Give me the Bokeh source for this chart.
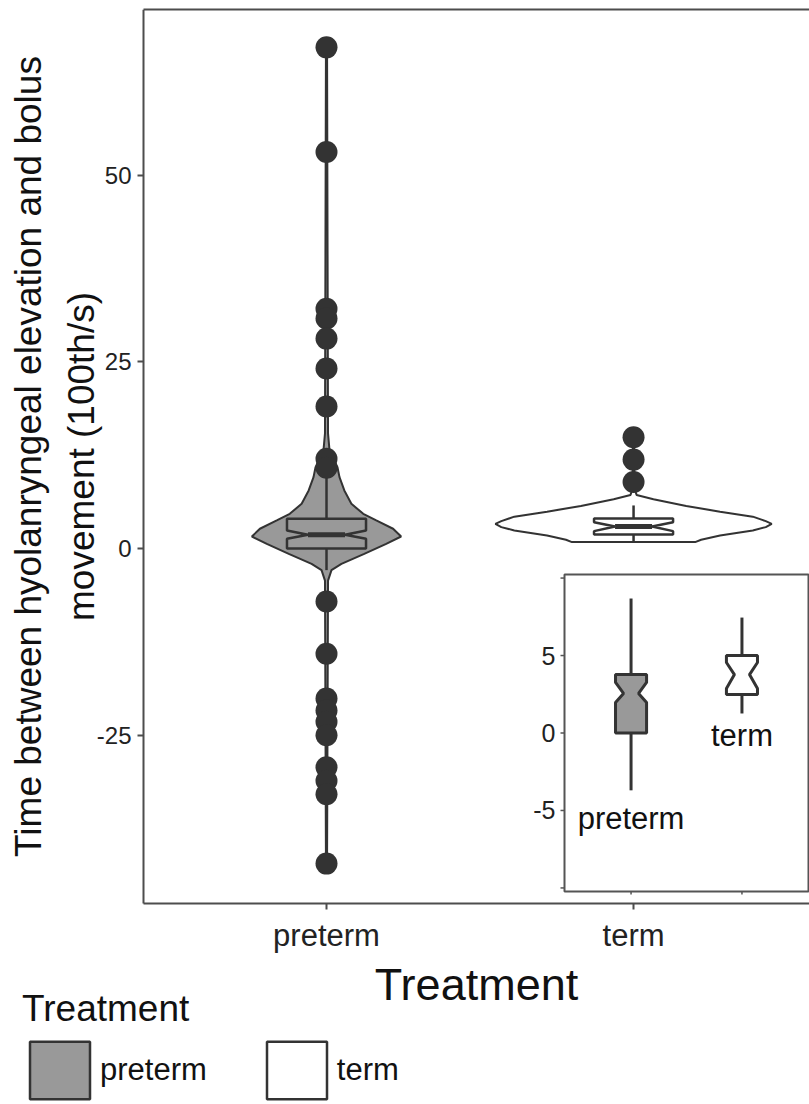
from bokeh.plotting import figure
from bokeh.models import Range1d, LinearAxis, FixedTicker, Legend, LegendItem
from bokeh.embed import file_html
from bokeh.resources import INLINE
from bokeh.core.properties import value

# ---------------- data ----------------
groups = ["preterm", "term"]
group_pos = [1, 2]
group_fill = ["#999999", "#ffffff"]

# violin outlines: y value and relative half-width (1 = widest)
pre_violin_y = [-42.2, -4.3, -2.9, -2.06, -0.72, 0.62, 1.6, 2.64, 3.75, 4.64, 5.98, 7.77, 9.55, 10.9, 13.1, 15.4, 67.1]
pre_violin_w = [0.004, 0.011, 0.036, 0.108, 0.273, 0.432, 0.540, 0.482, 0.360, 0.266, 0.180, 0.129, 0.094, 0.079, 0.022, 0.011, 0.004]
term_violin_y = [0.85, 1.16, 1.74, 2.41, 2.86, 3.3, 3.66, 4.26, 4.93, 5.69, 6.59, 7.17, 8.0, 14.9]
term_violin_w = [0.446, 0.489, 0.626, 0.863, 0.957, 1.0, 0.957, 0.863, 0.626, 0.381, 0.144, 0.022, 0.007, 0.004]

# main notched boxplots (preterm, term)
box_whisk_lo = [-2.9, 1.0]
box_q1 = [0.0, 1.87]
box_notch_lo = [1.3, 2.32]
box_med = [1.83, 2.95]
box_notch_hi = [2.41, 3.52]
box_q3 = [3.97, 4.0]
box_whisk_hi = [10.0, 5.76]

# outliers
pre_out = [67.1, 53.1, 32.1, 30.8, 28.1, 24.1, 19.0, 12.0, 10.8, -7.1, -14.1, -20.1,
           -21.7, -23.2, -25.0, -29.3, -31.1, -32.9, -42.2]
term_out = [14.9, 11.9, 8.9]

main_yticks = [-25, 0, 25, 50]
main_ylabels = {-25: "-25", 0: "0", 25: "25", 50: "50"}
main_ylim = (-47.54, 72.17)
main_xlim = (0.404, 2.573)

# inset boxplots
in_whisk_lo = [-3.7, 1.26]
in_q1 = [0.0, 2.48]
in_notch_lo = [1.97, 2.87]
in_med = [2.55, 3.77]
in_notch_hi = [3.26, 4.55]
in_q3 = [3.77, 5.0]
in_whisk_hi = [8.68, 7.45]
in_label_y = [-5.5, -0.15]
inset_yticks = [-10, -5, 0, 5, 10]
inset_ylabels = {-5: "-5", 0: "0", 5: "5"}
inset_xlim = (0.4, 2.6)
inset_ylim = (-10.23, 10.23)

y_title = "Time between hyolanryngeal elevation and bolus\nmovement (100th/s)"
x_title = "Treatment"
legend_title = "Treatment"

# ---------------- layout / style ----------------
FONT = value("Liberation Sans")
DARK = "#333333"
AXC = "#4d4d4d"
W, H = 809, 1104
# canvas pixels: whole drawing frame, main panel, inset panel (left, right, top, bottom)
CL, CR, CT, CB = 0, 809, 9, 1104
FL, FR, FT, FB = 143, 809, 9, 903
IL, IR, IT, IB = 564, 808, 574, 891


def extend_x(lim, p0, p1):
    u = (lim[1] - lim[0]) / (p1 - p0)
    return lim[0] - (p0 - CL) * u, lim[1] + (CR - p1) * u, u


def extend_y(lim, ptop, pbot):
    u = (lim[1] - lim[0]) / (pbot - ptop)
    return lim[0] - (CB - pbot) * u, lim[1] + (ptop - CT) * u, u


mx0, mx1, _ = extend_x(main_xlim, FL, FR)
my0, my1, _ = extend_y(main_ylim, FT, FB)
ix0, ix1, ux = extend_x(inset_xlim, IL, IR)
iy0, iy1, uy = extend_y(inset_ylim, IT, IB)

p = figure(width=W, height=H, x_range=Range1d(mx0, mx1), y_range=Range1d(my0, my1),
           output_backend="svg", toolbar_location=None,
           min_border_left=CL, min_border_right=W - CR, min_border_top=CT, min_border_bottom=H - CB)
p.outline_line_color = None
p.grid.visible = False
p.background_fill_color = "white"
p.extra_x_ranges = {"ix": Range1d(ix0, ix1)}
p.extra_y_ranges = {"iy": Range1d(iy0, iy1)}
IN = dict(x_range_name="ix", y_range_name="iy")

xa = p.xaxis[0]
xa.fixed_location = main_ylim[0]
xa.bounds = main_xlim
xa.ticker = FixedTicker(ticks=group_pos)
xa.major_label_overrides = {g: n for g, n in zip(group_pos, groups)}
xa.axis_label = x_title
xa.axis_label_text_font_size = "45px"
xa.axis_label_standoff = 3
ya = p.yaxis[0]
ya.fixed_location = main_xlim[0]
ya.bounds = main_ylim
ya.ticker = FixedTicker(ticks=main_yticks)
ya.major_label_overrides = main_ylabels
ya.axis_label = y_title
ya.axis_label_text_font_size = "37px"
ya.axis_label_text_line_height = 1.3
ya.axis_label_standoff = -8
for ax, fs, so in ((xa, "31px", 8), (ya, "24px", 6)):
    ax.axis_line_width = 2
    ax.axis_line_color = AXC
    ax.major_tick_line_color = AXC
    ax.major_tick_line_width = 2
    ax.major_tick_out = 6
    ax.major_tick_in = 0
    ax.minor_tick_line_color = None
    ax.major_label_text_font_size = fs
    ax.major_label_text_font = "Liberation Sans"
    ax.major_label_text_color = "#222222"
    ax.major_label_standoff = so
    ax.axis_label_text_font_style = "normal"
    ax.axis_label_text_font = "Liberation Sans"
    ax.axis_label_text_color = "#111111"

top = LinearAxis(ticker=FixedTicker(ticks=[]), bounds=main_xlim, axis_line_width=2, axis_line_color=AXC,
                 major_tick_out=0, major_tick_in=0, minor_tick_out=0, minor_tick_in=0,
                 major_label_standoff=0)
p.add_layout(top, "above")

# ---- violins ----
VHALF = 0.45
for pos, fill, vy, vw in ((1, group_fill[0], pre_violin_y, pre_violin_w),
                          (2, group_fill[1], term_violin_y, term_violin_w)):
    xs = [pos - VHALF * w for w in vw] + [pos + VHALF * w for w in reversed(vw)]
    ys = list(vy) + list(reversed(vy))
    p.patch(xs, ys, fill_color=fill, line_color=DARK, line_width=2)


def notch_box(cx, hw, nw, q1, nlo, med, nhi, q3):
    xs = [cx - hw, cx + hw, cx + hw, cx + nw, cx + hw, cx + hw, cx - hw, cx - hw, cx - nw, cx - hw]
    ys = [q3, q3, nhi, med, nlo, q1, q1, nlo, med, nhi]
    return xs, ys


# ---- main boxplots ----
BHW, NHW = 0.1287, 0.0603
p.segment(x0=group_pos, y0=box_whisk_lo, x1=group_pos, y1=box_q1, line_color=DARK, line_width=2.5)
p.segment(x0=group_pos, y0=box_q3, x1=group_pos, y1=box_whisk_hi, line_color=DARK, line_width=2.5)
bx, by = [], []
for i, g in enumerate(group_pos):
    xs, ys = notch_box(g, BHW, NHW, box_q1[i], box_notch_lo[i], box_med[i], box_notch_hi[i], box_q3[i])
    bx.append(xs)
    by.append(ys)
boxes = p.patches(bx, by, fill_color=group_fill, line_color=DARK, line_width=2.5)
p.segment(x0=[g - NHW for g in group_pos], y0=box_med, x1=[g + NHW for g in group_pos], y1=box_med,
          line_color=DARK, line_width=5)

# ---- outlier points ----
p.scatter(x=[1] * len(pre_out), y=pre_out, size=22, fill_color=DARK, line_color=None)
p.scatter(x=[2] * len(term_out), y=term_out, size=22, fill_color=DARK, line_color=None)

# ---- inset ----
p.quad(left=[inset_xlim[0]], right=[inset_xlim[1]], bottom=[inset_ylim[0]], top=[inset_ylim[1]],
       fill_color="white", line_color="#555555", line_width=2, **IN)
IBHW, INHW = 0.14, 0.068
p.segment(x0=group_pos, y0=in_whisk_lo, x1=group_pos, y1=in_q1, line_color=DARK, line_width=3, **IN)
p.segment(x0=group_pos, y0=in_q3, x1=group_pos, y1=in_whisk_hi, line_color=DARK, line_width=3, **IN)
ix_, iy_ = [], []
for i, g in enumerate(group_pos):
    xs, ys = notch_box(g, IBHW, INHW, in_q1[i], in_notch_lo[i], in_med[i], in_notch_hi[i], in_q3[i])
    ix_.append(xs)
    iy_.append(ys)
p.patches(ix_, iy_, fill_color=group_fill, line_color=DARK, line_width=3, **IN)
p.text(x=group_pos, y=in_label_y, text=groups, text_align="center", text_baseline="alphabetic",
       text_font_size="31px", text_font=FONT, text_color="#111111", **IN)
# inset axis ticks and labels
p.segment(x0=[inset_xlim[0]] * len(inset_yticks), y0=inset_yticks,
          x1=[inset_xlim[0] - 4 * ux] * len(inset_yticks), y1=inset_yticks,
          line_color="#555555", line_width=1.5, **IN)
p.segment(x0=group_pos, y0=[inset_ylim[0]] * 2, x1=group_pos, y1=[inset_ylim[0] - 3 * uy] * 2,
          line_color="#555555", line_width=1.5, **IN)
lab_t = list(inset_ylabels.keys())
p.text(x=[inset_xlim[0]] * len(lab_t), y=lab_t, text=[inset_ylabels[t] for t in lab_t], x_offset=-9,
       text_align="right", text_baseline="middle", text_font_size="25px", text_font=FONT,
       text_color="#222222", **IN)

# ---------------- legend below the plot ----------------
legend = Legend(items=[LegendItem(label=groups[i], renderers=[boxes], index=i) for i in range(2)],
                title=legend_title, orientation="horizontal", location=(22, -2),
                padding=0, margin=0, spacing=52, glyph_width=75, glyph_height=72,
                label_standoff=3, title_standoff=4,
                label_text_font="Liberation Sans", label_text_font_size="31px", label_text_color="#111111",
                title_text_font="Liberation Sans", title_text_font_size="37px", title_text_color="#111111",
                title_text_font_style="normal",
                border_line_color=None, background_fill_alpha=0)
p.add_layout(legend, "center")

open("out.html", "w").write(file_html(p, INLINE))
